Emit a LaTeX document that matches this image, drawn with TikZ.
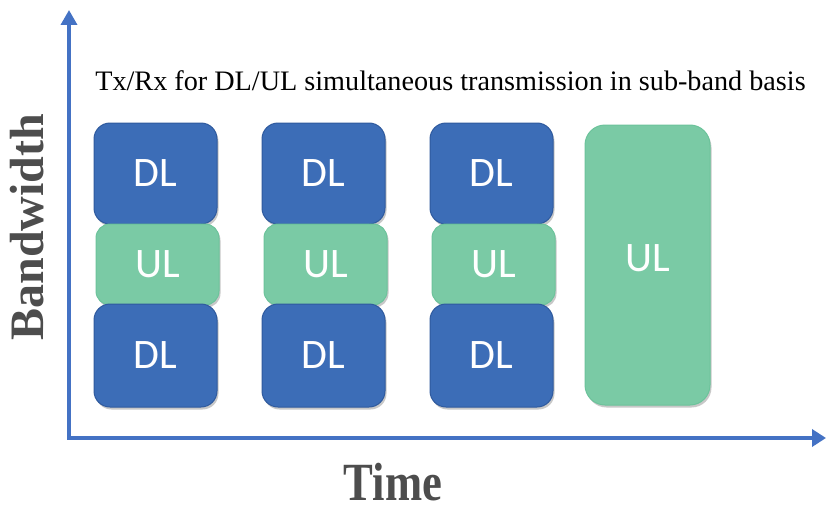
\documentclass[tikz,border=0pt]{standalone}
\usepackage{fontspec}
\setmainfont{Liberation Serif}
\newfontfamily\boxfont{Carlito}
\usetikzlibrary{arrows.meta,shadows}
\definecolor{axisblue}{HTML}{4472C4}
\definecolor{dlfill}{HTML}{3C6DB7}
\definecolor{dldraw}{HTML}{2F5A9E}
\definecolor{ulfill}{HTML}{7ACAA5}
\definecolor{uldraw}{HTML}{6CC39B}
\definecolor{labelgray}{HTML}{4D4D4D}
\tikzset{
  boxshadow/.style={drop shadow={shadow xshift=1.5pt,shadow yshift=-2.5pt,opacity=0.3,fill=black!70}},
  dlbox/.style={boxshadow,rectangle,rounded corners=16pt,fill=dlfill,draw=dldraw,line width=1pt,
    minimum width=123pt,minimum height=101pt,inner sep=0pt,text=white,
    font=\boxfont\fontsize{42}{42}\selectfont},
  ulbox/.style={boxshadow,rectangle,rounded corners=14pt,fill=ulfill,draw=uldraw,line width=1pt,
    minimum width=123pt,minimum height=81pt,inner sep=0pt,text=white,
    font=\boxfont\fontsize{42}{42}\selectfont},
  axis/.style={draw=axisblue,line width=3.5pt,line join=miter,{Triangle[length=15pt,width=16pt]}-{Triangle[length=14pt,width=17pt]}},
  axislabel/.style={text=labelgray,font=\bfseries\fontsize{48}{48}\selectfont,inner sep=0pt}
}
\begin{document}
\begin{tikzpicture}[x=1pt,y=-1pt]
\useasboundingbox[fill=white] (0,0) rectangle (826,511);
% axes
\coordinate (ytip) at (69,10);
\coordinate (xtip) at (826,438);
\draw[axis] (ytip) |- (xtip);
% title
\node[anchor=base,font=\fontsize{28.2}{28.2}\selectfont,inner sep=0pt] (title) at (450.5,90)
  {Tx/Rx for DL/UL simultaneous transmission in sub-band basis};
% columns
\foreach \i/\dx in {1/0,2/168,3/336}{
  \node[dlbox] (dlt\i) at (155.5+\dx,173.5) {DL};
  \node[ulbox] (ul\i) at (157.5+\dx,264.5) {UL};
  \node[dlbox,minimum height=103pt] (dlb\i) at (155.5+\dx,355.5) {DL};
}
\node[ulbox,rounded corners=20pt,minimum width=125pt,minimum height=280pt] (ulbig) at (647.5,265) {};
\node[text=white,font=\boxfont\fontsize{42}{42}\selectfont] (ulbigtext) at (647.5,258) {UL};
% axis labels
\node[axislabel,rotate=90,anchor=base] (bw) at (43,227) {Bandwidth};
\node[axislabel,anchor=base,xscale=0.93,yscale=1.12] (time) at (393,500) {Time};
\end{tikzpicture}
\end{document}
